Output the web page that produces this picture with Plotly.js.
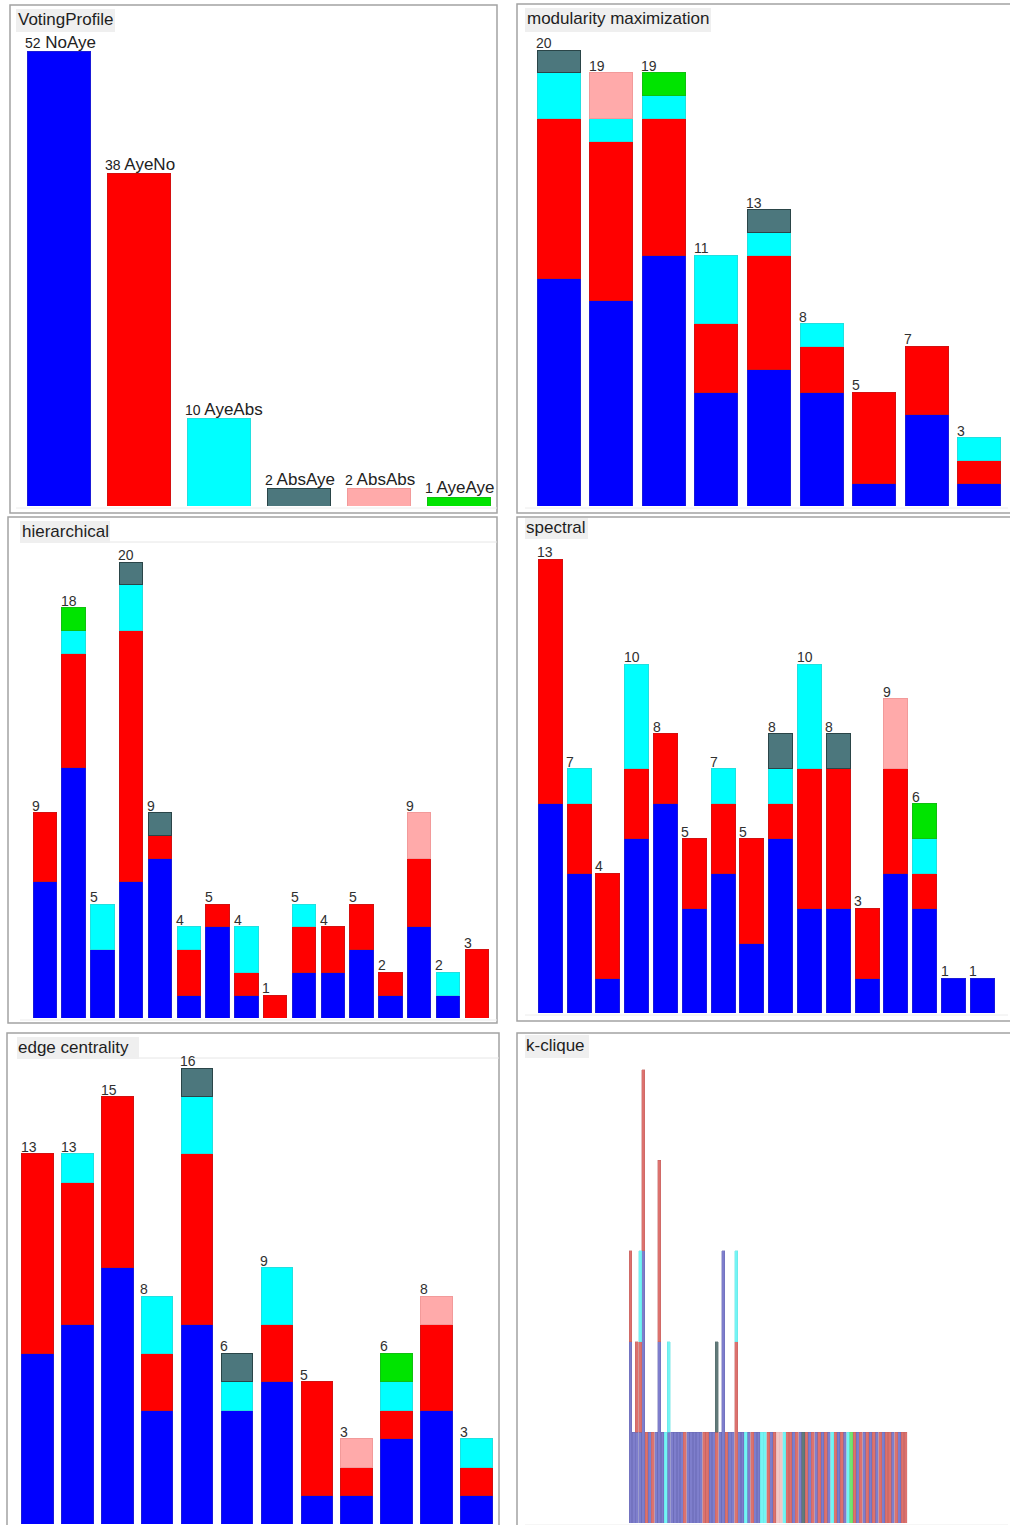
<!DOCTYPE html>
<html>
<head>
<meta charset="utf-8">
<script src="https://cdn.plot.ly/plotly-3.0.1.min.js"></script>
<style>
html,body{margin:0;padding:0;background:#fff;}
#chart{width:1010px;height:1525px;}
</style>
</head>
<body>
<div id="chart"></div>
<script>
// ================= DATA =================
const categories = ['NoAye','AyeNo','AyeAbs','AbsAye','AbsAbs','AyeAye'];

// VotingProfile
const votingCategories = ['NoAye','AyeNo','AyeAbs','AbsAye','AbsAbs','AyeAye'];
const votingCounts = [52,38,10,2,2,1];

// modularity maximization
const modularityNoAye  = [10,9,11,5,6,5,1,4,1];
const modularityAyeNo  = [7,7,6,3,5,2,4,3,1];
const modularityAyeAbs = [2,1,1,3,1,1,0,0,1];
const modularityAbsAye = [1,0,0,0,1,0,0,0,0];
const modularityAbsAbs = [0,2,0,0,0,0,0,0,0];
const modularityAyeAye = [0,0,1,0,0,0,0,0,0];

// hierarchical
const hierarchicalNoAye  = [6,11,3,6,7,1,4,1,0,2,2,3,1,4,1,0];
const hierarchicalAyeNo  = [3,5,0,11,1,2,1,1,1,2,2,2,1,3,0,3];
const hierarchicalAyeAbs = [0,1,2,2,0,1,0,2,0,1,0,0,0,0,1,0];
const hierarchicalAbsAye = [0,0,0,1,1,0,0,0,0,0,0,0,0,0,0,0];
const hierarchicalAbsAbs = [0,0,0,0,0,0,0,0,0,0,0,0,0,2,0,0];
const hierarchicalAyeAye = [0,1,0,0,0,0,0,0,0,0,0,0,0,0,0,0];

// spectral
const spectralNoAye  = [6,4,1,5,6,3,4,2,5,3,3,1,4,3,1,1];
const spectralAyeNo  = [7,2,3,2,2,2,2,3,1,4,4,2,3,1,0,0];
const spectralAyeAbs = [0,1,0,3,0,0,1,0,1,3,0,0,0,1,0,0];
const spectralAbsAye = [0,0,0,0,0,0,0,0,1,0,1,0,0,0,0,0];
const spectralAbsAbs = [0,0,0,0,0,0,0,0,0,0,0,0,2,0,0,0];
const spectralAyeAye = [0,0,0,0,0,0,0,0,0,0,0,0,0,1,0,0];

// edge centrality
const edgeNoAye  = [6,7,9,4,7,4,5,1,1,3,4,1];
const edgeAyeNo  = [7,5,6,2,6,0,2,4,1,1,3,1];
const edgeAyeAbs = [0,1,0,2,2,1,2,0,0,1,0,1];
const edgeAbsAye = [0,0,0,0,1,1,0,0,0,0,0,0];
const edgeAbsAbs = [0,0,0,0,0,0,0,0,1,0,1,0];
const edgeAyeAye = [0,0,0,0,0,0,0,0,0,1,0,0];

// k-clique: one string per bar, members bottom to top
// B=NoAye R=AyeNo C=AyeAbs D=AbsAye P=AbsAbs G=AyeAye
const kcliqueCodes = {B:'NoAye', R:'AyeNo', C:'AyeAbs', D:'AbsAye', P:'AbsAbs', G:'AyeAye'};
const kcliqueStacks = [
 'BBR','B','BR','BRC','BBBRR','R','B','R','B','BBRR',
 'B','C','BC','B','B','B','B','R','B','B',
 'B','B','B','R','R','B','B','RD','B','BBB',
 'R','B','B','RRC','B','B','C','B','R','B',
 'B','C','C','R','B','R','P','P','C','R',
 'R','B','R','B','D','R','B','R','B','R',
 'B','R','B','C','R','B','R','B','C','G',
 'R','B','R','B','R','B','R','B','R','B',
 'R','R','B','R','B','R','R'
];

// ================= STYLE / LAYOUT =================
const W = 1010, H = 1525;
const px = v => v / W;
const py = v => 1 - v / H;

const fillColors = {NoAye:'#0000FF', AyeNo:'#FF0000', AyeAbs:'#00FFFF', AbsAye:'#4C777D', AbsAbs:'#FFAAAA', AyeAye:'#00E400'};
const lineColors = {NoAye:'#1A1AD8', AyeNo:'#D41010', AyeAbs:'#20E0E0', AbsAye:'#2A4548', AbsAbs:'#F29A9A', AyeAye:'#10C010'};
const fadedFill  = {NoAye:'#7E7ECC', AyeNo:'#DC726E', AyeAbs:'#74F4F4', AbsAye:'#627A7A', AbsAbs:'#F2C6C6', AyeAye:'#72E472'};
const fadedLine  = {NoAye:'#6464B0', AyeNo:'#BE5F5C', AyeAbs:'#5EE0E0', AbsAye:'#4E6666', AbsAbs:'#E4AEAE', AyeAye:'#5CCC5C'};

const kcliqueSeries = {};
categories.forEach(cat => {
  kcliqueSeries[cat] = kcliqueStacks.map(s => s.split('').filter(ch => kcliqueCodes[ch] === cat).length);
});

const panels = [
 {title:'VotingProfile', border:[10,5,497,513], box:[16,9,115,32], textX:17, textY:20,
  firstLeft:27, pitch:80, barW:63, baseline:506, top:40, ppu:8.74, n:votingCounts.length, series:null},
 {title:'modularity maximization', border:[517,4,1014,513], box:[525,8,711,32], textX:526, textY:19,
  firstLeft:537, pitch:52.6, barW:43, baseline:506, top:40, ppu:22.8, n:modularityNoAye.length,
  series:{NoAye:modularityNoAye, AyeNo:modularityAyeNo, AyeAbs:modularityAyeAbs, AbsAye:modularityAbsAye, AbsAbs:modularityAbsAbs, AyeAye:modularityAyeAye}},
 {title:'hierarchical', border:[8,517,497,1023], box:[20,521,110,543], textX:21, textY:531, rule:true,
  firstLeft:33, pitch:28.8, barW:23.5, baseline:1018, top:550, ppu:22.8, n:hierarchicalNoAye.length,
  series:{NoAye:hierarchicalNoAye, AyeNo:hierarchicalAyeNo, AyeAbs:hierarchicalAyeAbs, AbsAye:hierarchicalAbsAye, AbsAbs:hierarchicalAbsAbs, AyeAye:hierarchicalAyeAye}},
 {title:'spectral', border:[517,517,1014,1021], box:[525,518,588,539], textX:525, textY:527,
  firstLeft:538.3, pitch:28.8, barW:24, baseline:1013, top:545, ppu:34.9, n:spectralNoAye.length,
  series:{NoAye:spectralNoAye, AyeNo:spectralAyeNo, AyeAbs:spectralAyeAbs, AbsAye:spectralAbsAye, AbsAbs:spectralAbsAbs, AyeAye:spectralAyeAye}},
 {title:'edge centrality', border:[7,1033,499,1532], box:[17,1037,139,1059], textX:17, textY:1047, rule:true,
  firstLeft:21.7, pitch:39.9, barW:31.5, baseline:1524, top:1060, ppu:28.5, n:edgeNoAye.length,
  series:{NoAye:edgeNoAye, AyeNo:edgeAyeNo, AyeAbs:edgeAyeAbs, AbsAye:edgeAbsAye, AbsAbs:edgeAbsAbs, AyeAye:edgeAyeAye}},
 {title:'k-clique', border:[517,1033,1014,1532], box:[525,1035,589,1058], textX:525, textY:1045,
  firstLeft:629, pitch:3.2, barW:2.95, baseline:1523, top:1060, ppu:90.7, n:kcliqueStacks.length,
  series:kcliqueSeries, faded:true, noLabels:true}
];

const traces = [];
const shapes = [];
const annotations = [];
const layout = {
  width: W, height: H,
  margin: {l:0, r:0, t:0, b:0, pad:0},
  paper_bgcolor: '#FFFFFF',
  plot_bgcolor: 'rgba(0,0,0,0)',
  showlegend: false,
  barmode: 'stack',
  bargap: 0,
  hovermode: false
};

const numFont = {family:'Liberation Sans, Arial, sans-serif', size:14, color:'#303030'};
const titleFont = {family:'Liberation Sans, Arial, sans-serif', size:17, color:'#1E1E1E'};

panels.forEach((p, k) => {
  const s = k === 0 ? '' : String(k + 1);
  const xa = 'x' + s, ya = 'y' + s;
  const center0 = p.firstLeft + p.barW / 2;
  const d0 = center0 - p.pitch / 2;
  const d1 = d0 + p.n * p.pitch;
  const wFrac = p.barW / p.pitch;
  layout['xaxis' + s] = {domain:[px(d0), px(d1)], range:[-0.5, p.n - 0.5], visible:false, fixedrange:true, anchor:ya};
  layout['yaxis' + s] = {domain:[py(p.baseline), py(p.top)], range:[0, (p.baseline - p.top) / p.ppu], visible:false, fixedrange:true, anchor:xa};

  // frame + title box
  shapes.push({type:'rect', xref:'paper', yref:'paper', x0:px(p.border[0]), x1:px(p.border[2]), y0:py(p.border[3]), y1:py(p.border[1]),
    line:{color:'#A3A3A3', width:1.5}, fillcolor:'rgba(0,0,0,0)', layer:'below'});
  shapes.push({type:'rect', xref:'paper', yref:'paper', x0:px(p.box[0]), x1:px(p.box[2]), y0:py(p.box[3]), y1:py(p.box[1]),
    line:{width:0}, fillcolor:'#EFEFEF', layer:'below'});
  if (p.rule) {
    shapes.push({type:'line', xref:'paper', yref:'paper', x0:px(p.box[2]), x1:px(p.border[2]), y0:py(p.box[3] - 1), y1:py(p.box[3] - 1),
      line:{color:'#E6E6E6', width:1}, layer:'below'});
  }
  shapes.push({type:'line', xref:'paper', yref:'paper', x0:px(p.box[0]), x1:px(Math.min(p.border[2], 1008)), y0:py(p.baseline + 2), y1:py(p.baseline + 2),
    line:{color:'#ECECEC', width:1}, layer:'below'});
  annotations.push({xref:'paper', yref:'paper', x:px(p.textX), y:py(p.textY), xanchor:'left', yanchor:'middle',
    text:p.title, showarrow:false, font:titleFont, borderpad:0});

  if (p.series === null) {
    // VotingProfile: one colored bar per category
    traces.push({type:'bar', x:votingCounts.map((_, i) => i), y:votingCounts, xaxis:xa, yaxis:ya, width:wFrac,
      marker:{color:votingCategories.map(c => fillColors[c]), line:{color:votingCategories.map(c => lineColors[c]), width:1}},
      hoverinfo:'skip', showlegend:false});
    votingCounts.forEach((v, i) => {
      annotations.push({xref:xa, yref:ya, x:i - wFrac / 2, y:v, xanchor:'left', yanchor:'bottom', xshift:-3, yshift:-1,
        text:'<span style="font-size:14px">' + v + '</span> ' + votingCategories[i], showarrow:false, borderpad:0,
        font:{family:'Liberation Sans, Arial, sans-serif', size:17, color:'#222222'}});
    });
    return;
  }

  const fc = p.faded ? fadedFill : fillColors;
  const lc = p.faded ? fadedLine : lineColors;
  categories.forEach(cat => {
    const vals = p.series[cat];
    // empty segments are left out so no outline is stroked for them
    const shown = vals.map(v => (v > 0 ? v : null));
    traces.push({type:'bar', x:vals.map((_, i) => i), y:shown, xaxis:xa, yaxis:ya, width:wFrac,
      marker:{color:fc[cat], line:{color:lc[cat], width:p.faded ? 0.4 : 1}},
      hoverinfo:'skip', showlegend:false});
  });
  if (!p.noLabels) {
    for (let i = 0; i < p.n; i++) {
      const total = categories.reduce((acc, cat) => acc + p.series[cat][i], 0);
      annotations.push({xref:xa, yref:ya, x:i - wFrac / 2, y:total, xanchor:'left', yanchor:'bottom', xshift:-2, yshift:-2,
        text:String(total), showarrow:false, borderpad:0, font:numFont});
    }
  }
});

layout.shapes = shapes;
layout.annotations = annotations;

Plotly.newPlot('chart', traces, layout, {staticPlot:true, displayModeBar:false});
</script>
</body>
</html>
